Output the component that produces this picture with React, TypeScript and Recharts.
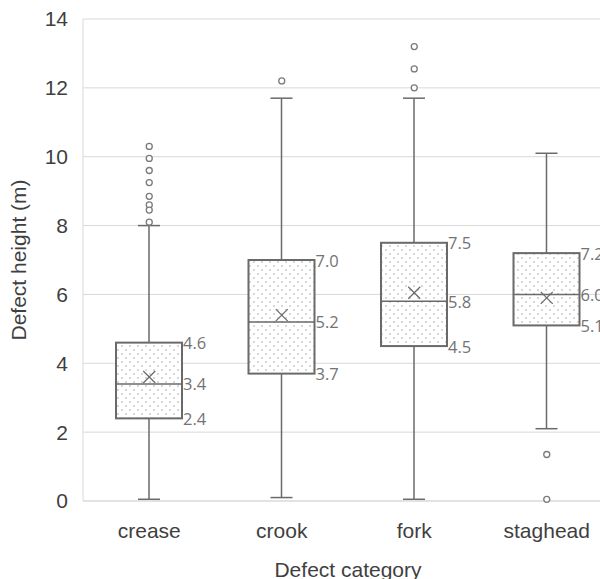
import React from 'react';
import {
  ComposedChart,
  Bar,
  Scatter,
  XAxis,
  YAxis,
  CartesianGrid,
} from 'recharts';

// Box plot summary per defect category (metres)
const CATEGORIES = ['crease', 'crook', 'fork', 'staghead'];
const WHISKER_LOW = [0.05, 0.1, 0.05, 2.1];
const Q1 = [2.4, 3.7, 4.5, 5.1];
const MEDIAN = [3.4, 5.2, 5.8, 6.0];
const Q3 = [4.6, 7.0, 7.5, 7.2];
const WHISKER_HIGH = [8.0, 11.7, 11.7, 10.1];
const MEAN = [3.6, 5.4, 6.05, 5.9];
const OUTLIERS = [
  [10.3, 9.95, 9.6, 9.25, 8.85, 8.6, 8.45, 8.1],
  [12.2],
  [13.2, 12.55, 12.0],
  [1.35, 0.05],
];
const Y_TICKS = [0, 2, 4, 6, 8, 10, 12, 14];

const boxData = CATEGORIES.map((name, i) => ({
  name,
  low: WHISKER_LOW[i],
  q1: Q1[i],
  median: MEDIAN[i],
  q3: Q3[i],
  high: WHISKER_HIGH[i],
}));

const meanData = CATEGORIES.map((name, i) => ({ name, value: MEAN[i] }));

const outlierData = CATEGORIES.flatMap((name, i) =>
  OUTLIERS[i].map((value) => ({ name, value })),
);

const LINE = '#6a6a6a';
const LABEL_FONT = '"Open Sans", "Liberation Sans", sans-serif';
const AXIS_FONT = '"Liberation Sans", Arial, sans-serif';
const AXIS_TEXT = '#3f3f3f';

/** Whiskers, dotted box, median line and value labels */
const BoxShape = (props: any) => {
  const { x, y, width, height, payload } = props;
  const { low, high, q1, median, q3 } = payload;
  const ppu = height / (high - low);
  const py = (v: number) => y + (high - v) * ppu;
  const cx = x + width / 2;
  const cap = 11;
  const labels = [q3, median, q1];
  return (
    <g>
      <line x1={cx} x2={cx} y1={py(high)} y2={py(q3)} stroke={LINE} strokeWidth={1.5} />
      <line x1={cx} x2={cx} y1={py(q1)} y2={py(low)} stroke={LINE} strokeWidth={1.5} />
      <line x1={cx - cap} x2={cx + cap} y1={py(high)} y2={py(high)} stroke={LINE} strokeWidth={1.5} />
      <line x1={cx - cap} x2={cx + cap} y1={py(low)} y2={py(low)} stroke={LINE} strokeWidth={1.5} />
      <rect
        x={x}
        y={py(q3)}
        width={width}
        height={py(q1) - py(q3)}
        fill="url(#boxDots)"
        stroke={LINE}
        strokeWidth={2}
      />
      <line x1={x} x2={x + width} y1={py(median)} y2={py(median)} stroke={LINE} strokeWidth={1.5} />
      {labels.map((v, i) => (
        <text
          key={i}
          x={x + width + 1}
          y={py(v)}
          dominantBaseline="central"
          fill="#737373"
          fontSize={16.5}
          fontFamily={LABEL_FONT}
        >
          {v.toFixed(1)}
        </text>
      ))}
    </g>
  );
};

const MeanMark = (props: any) => {
  const { cx, cy } = props;
  const s = 6;
  return (
    <g stroke={LINE} strokeWidth={1.3}>
      <line x1={cx - s} y1={cy - s} x2={cx + s} y2={cy + s} />
      <line x1={cx - s} y1={cy + s} x2={cx + s} y2={cy - s} />
    </g>
  );
};

const OutlierDot = (props: any) => {
  const { cx, cy } = props;
  return <circle cx={cx} cy={cy} r={3} fill="#fff" stroke="#7a7a7a" strokeWidth={1.3} />;
};

export default function App() {
  return (
    <div
      style={{
        position: 'absolute',
        left: 0,
        top: 0,
        width: 600,
        height: 579,
        overflow: 'hidden',
        background: '#fff',
      }}
    >
      <svg width={0} height={0} style={{ position: 'absolute' }}>
        <defs>
          <pattern id="boxDots" width={8} height={8} patternUnits="userSpaceOnUse">
            <rect width={8} height={8} fill="#fff" />
            <circle cx={2} cy={2} r={0.8} fill="#a8a8a8" />
            <circle cx={6} cy={6} r={0.8} fill="#a8a8a8" />
          </pattern>
        </defs>
      </svg>
      <ComposedChart
        width={630}
        height={600}
        data={boxData}
        margin={{ top: 19, right: 17, left: 0, bottom: 39 }}
      >
        <CartesianGrid vertical={false} stroke="#d9d9d9" />
        <XAxis
          dataKey="name"
          allowDuplicatedCategory={false}
          axisLine={{ stroke: '#d9d9d9' }}
          tickLine={false}
          tickSize={0}
          tickMargin={22}
          height={60}
          tick={{ fontSize: 21, fill: AXIS_TEXT, fontFamily: AXIS_FONT }}
          label={{
            value: 'Defect category',
            position: 'insideBottom',
            offset: -16,
            fontSize: 21,
            fill: AXIS_TEXT,
            fontFamily: AXIS_FONT,
          }}
        />
        <YAxis
          domain={[0, 14]}
          ticks={Y_TICKS}
          width={83}
          axisLine={{ stroke: '#d9d9d9' }}
          tickLine={false}
          tickSize={0}
          tickMargin={15}
          tick={{ fontSize: 21, fill: AXIS_TEXT, fontFamily: AXIS_FONT }}
          label={{
            value: 'Defect height (m)',
            angle: -90,
            position: 'insideLeft',
            offset: 19,
            style: { textAnchor: 'middle' },
            fontSize: 21,
            fill: AXIS_TEXT,
            fontFamily: AXIS_FONT,
          }}
        />
        <Bar
          dataKey={(d: any) => [d.low, d.high]}
          barSize={66}
          shape={<BoxShape />}
          isAnimationActive={false}
        />
        <Scatter data={meanData} dataKey="value" shape={<MeanMark />} isAnimationActive={false} />
        <Scatter data={outlierData} dataKey="value" shape={<OutlierDot />} isAnimationActive={false} />
      </ComposedChart>
    </div>
  );
}
